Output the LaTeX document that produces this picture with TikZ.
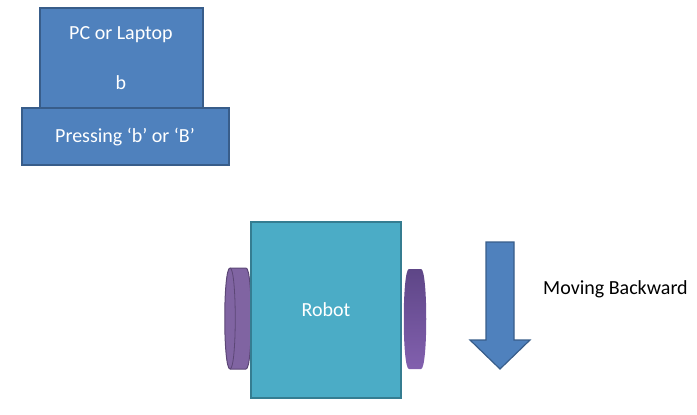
\documentclass[tikz,border=0pt]{standalone}
\usepackage{fontspec}
\setmainfont{Carlito}
\definecolor{boxblue}{HTML}{4F81BD}
\definecolor{boxedge}{HTML}{385D8A}
\definecolor{robotfill}{HTML}{4BACC6}
\definecolor{robotedge}{HTML}{357D91}
\definecolor{wheelfill}{HTML}{8064A2}
\definecolor{wheeledge}{HTML}{5C4776}
\definecolor{wheeldark}{HTML}{5E4687}
\definecolor{wheellight}{HTML}{8260AE}
\begin{document}
\begin{tikzpicture}[x=1pt,y=-1pt,
  bluebox/.style={draw=boxedge,fill=boxblue,line width=1.2pt},
  wtext/.style={text=white,font=\fontsize{20}{23}\selectfont,inner sep=0pt},
  btext/.style={text=black,font=\fontsize{20}{23}\selectfont,inner sep=0pt}]
\useasboundingbox (0,0) rectangle (697,415);
% PC box
\draw[bluebox] (40,8) rectangle (203,108);
\node[wtext] (pc) at (121,35) {PC or Laptop};
\node[wtext] (b) at (121,83) {b};
% pressing box
\draw[bluebox] (22,108) rectangle (229,165);
\node[wtext] (press) at (125,137) {Pressing ‘b’ or ‘B’};
% left wheel
\draw[draw=wheeledge,fill=wheelfill,line width=1pt]
  (230,268) -- (246,268) .. controls (253,268) and (253,369) .. (246,369) -- (230,369)
  .. controls (223,369) and (223,268) .. (230,268) -- cycle;
\draw[draw=wheeledge,line width=0.8pt] (230,268) .. controls (237,268) and (237,369) .. (230,369);
% right wheel
\shade[top color=wheeldark,bottom color=wheellight]
  (409,269) -- (421,269) .. controls (428,269) and (428,369) .. (421,369) -- (409,369)
  .. controls (402,369) and (402,269) .. (409,269) -- cycle;
% robot
\draw[draw=robotedge,fill=robotfill,line width=1.2pt] (251,222) rectangle (401,398);
\node[wtext] (robot) at (326,310) {Robot};
% arrow
\draw[bluebox] (486,242) -- (514,242) -- (514,340) -- (530,340) -- (500,369) -- (470,340) -- (486,340) -- cycle;
\node[btext,anchor=west] (mv) at (543,289) {Moving Backward};
\end{tikzpicture}
\end{document}
